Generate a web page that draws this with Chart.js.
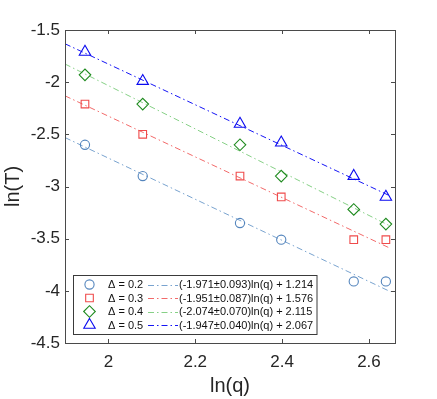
<!DOCTYPE html>
<html>
<head>
<meta charset="utf-8">
<script src="https://cdn.jsdelivr.net/npm/chart.js@4/dist/chart.umd.min.js"></script>
<style>
  html, body { margin: 0; padding: 0; background: #fff; }
  #wrap { width: 437px; height: 399px; }
</style>
</head>
<body>
<div id="wrap"><canvas id="c" width="437" height="399"></canvas></div>
<script>
// ---- data ----
const lnQ = [1.946, 2.079, 2.303, 2.398, 2.565, 2.639];
const lnT_d02 = [-2.60, -2.90, -3.35, -3.51, -3.91, -3.91];
const lnT_d03 = [-2.21, -2.50, -2.90, -3.10, -3.51, -3.51];
const lnT_d04 = [-1.93, -2.21, -2.60, -2.90, -3.22, -3.36];
const lnT_d05 = [-1.71, -1.99, -2.40, -2.58, -2.90, -3.10];

const fitX = [1.9, 2.65];
const fit_d02 = [-2.531, -4.009];
const fit_d03 = [-2.131, -3.594];
const fit_d04 = [-1.826, -3.381];
const fit_d05 = [-1.632, -3.093];

const seriesLabels = ['\u0394 = 0.2', '\u0394 = 0.3', '\u0394 = 0.4', '\u0394 = 0.5'];
const fitLabels = [
  '(-1.971\u00B10.093)ln(q) + 1.214',
  '(-1.951\u00B10.087)ln(q) + 1.576',
  '(-2.074\u00B10.070)ln(q) + 2.115',
  '(-1.947\u00B10.040)ln(q) + 2.067'
];
const xTickValues = [2, 2.2, 2.4, 2.6];
const yTickValues = [-1.5, -2, -2.5, -3, -3.5, -4, -4.5];

// ---- styles ----
const markerColors = ['#5485bd', '#ef4b4b', '#1e8a1e', '#0a0af0'];
const lineColors = ['#79a3cf', '#f26a6a', '#86d086', '#1515f5'];
const pointStyles = ['circle', 'rect', 'rectRot', 'triangle'];
const pointRadii = [4.6, 5.4, 5.8, 6.6];
const dashPattern = [6, 3, 1.5, 3];
const FONT = "'Liberation Sans', Arial, Helvetica, sans-serif";

const scatterData = [lnT_d02, lnT_d03, lnT_d04, lnT_d05];
const fitData = [fit_d02, fit_d03, fit_d04, fit_d05];

const datasets = [];
fitData.forEach((ys, i) => {
  datasets.push({
    type: 'line',
    label: fitLabels[i],
    data: fitX.map((x, k) => ({x: x, y: ys[k]})),
    borderColor: lineColors[i],
    borderWidth: 1,
    borderDash: dashPattern,
    pointRadius: 0,
    fill: false,
    tension: 0,
    order: 2
  });
});
scatterData.forEach((ys, i) => {
  datasets.push({
    type: 'scatter',
    label: seriesLabels[i],
    data: lnQ.map((x, k) => ({x: x, y: ys[k]})),
    pointStyle: pointStyles[i],
    pointRadius: pointRadii[i],
    pointHoverRadius: pointRadii[i],
    pointBorderColor: markerColors[i],
    pointBackgroundColor: 'rgba(0,0,0,0)',
    pointBorderWidth: 1.1,
    showLine: false,
    order: 1
  });
});

const framePlugin = {
  id: 'frame',
  afterDatasetsDraw(chart) {
    const {ctx, chartArea: a, scales} = chart;
    ctx.save();
    ctx.strokeStyle = '#4a4a4a';
    ctx.lineWidth = 1;
    ctx.strokeRect(Math.round(a.left) + 0.5, Math.round(a.top) + 0.5,
                   Math.round(a.right - a.left), Math.round(a.bottom - a.top));
    const L = 4;
    ctx.beginPath();
    scales.x.ticks.forEach(t => {
      const px = Math.round(scales.x.getPixelForValue(t.value)) + 0.5;
      ctx.moveTo(px, a.bottom); ctx.lineTo(px, a.bottom - L);
      ctx.moveTo(px, a.top); ctx.lineTo(px, a.top + L);
    });
    scales.y.ticks.forEach(t => {
      const py = Math.round(scales.y.getPixelForValue(t.value)) + 0.5;
      ctx.moveTo(a.left, py); ctx.lineTo(a.left + L, py);
      ctx.moveTo(a.right, py); ctx.lineTo(a.right - L, py);
    });
    ctx.stroke();
    ctx.restore();
  }
};

const legendPlugin = {
  id: 'customLegend',
  afterDraw(chart) {
    const {ctx} = chart;
    const bx = 73.5, by = 275.5, bw = 243.5, bh = 59;
    ctx.save();
    ctx.fillStyle = '#ffffff';
    ctx.fillRect(bx, by, bw, bh);
    ctx.strokeStyle = '#3a3a3a';
    ctx.lineWidth = 1;
    ctx.strokeRect(bx, by, bw, bh);
    const rowY = [284.5, 298, 311.5, 325];
    ctx.font = '11px ' + FONT;
    ctx.textBaseline = 'middle';
    ctx.textAlign = 'left';
    for (let i = 0; i < 4; i++) {
      const y = rowY[i];
      // marker
      const style = pointStyles[i];
      ctx.strokeStyle = markerColors[i];
      ctx.fillStyle = 'rgba(0,0,0,0)';
      ctx.lineWidth = 1.1;
      Chart.helpers.drawPoint(ctx, {pointStyle: style, radius: pointRadii[i], rotation: 0, borderWidth: 1.1}, 89.5, y);
      // label
      ctx.fillStyle = '#111';
      ctx.fillText(seriesLabels[i], 108, y + 0.5);
      // line sample
      ctx.strokeStyle = lineColors[i];
      ctx.lineWidth = 1;
      ctx.setLineDash(dashPattern);
      ctx.beginPath();
      ctx.moveTo(148, Math.round(y) + 0.5);
      ctx.lineTo(178, Math.round(y) + 0.5);
      ctx.stroke();
      ctx.setLineDash([]);
      ctx.fillStyle = '#111';
      ctx.fillText(fitLabels[i], 179, y + 0.5);
    }
    ctx.restore();
  }
};

new Chart(document.getElementById('c'), {
  data: { datasets: datasets },
  options: {
    responsive: false,
    animation: false,
    devicePixelRatio: 1,
    layout: { padding: { left: 0, top: 30, right: 42, bottom: 0 } },
    plugins: { legend: { display: false }, tooltip: { enabled: false } },
    scales: {
      x: {
        type: 'linear',
        min: 1.9, max: 2.66,
        grid: { display: false, drawTicks: false },
        border: { display: false },
        afterBuildTicks: s => { s.ticks = xTickValues.map(v => ({value: v})); },
        afterFit: s => { s.height = 56; },
        ticks: {
          color: '#262626', padding: 9, maxRotation: 0, autoSkip: false,
          font: { family: FONT, size: 17 },
          callback: v => String(v)
        },
        title: { display: true, text: 'ln(q)', color: '#262626',
                 font: { family: FONT, size: 20 }, padding: { top: 0, bottom: 1 } }
      },
      y: {
        type: 'linear',
        min: -4.5, max: -1.5,
        grid: { display: false, drawTicks: false },
        border: { display: false },
        afterBuildTicks: s => { s.ticks = yTickValues.map(v => ({value: v})); },
        afterFit: s => { s.width = 65; },
        ticks: {
          color: '#262626', padding: 5, autoSkip: false,
          font: { family: FONT, size: 17 },
          callback: v => String(v)
        },
        title: { display: true, text: 'ln(T)', color: '#262626',
                 font: { family: FONT, size: 20 }, padding: { top: 1, bottom: 0 } }
      }
    }
  },
  plugins: [framePlugin, legendPlugin]
});
</script>
</body>
</html>
